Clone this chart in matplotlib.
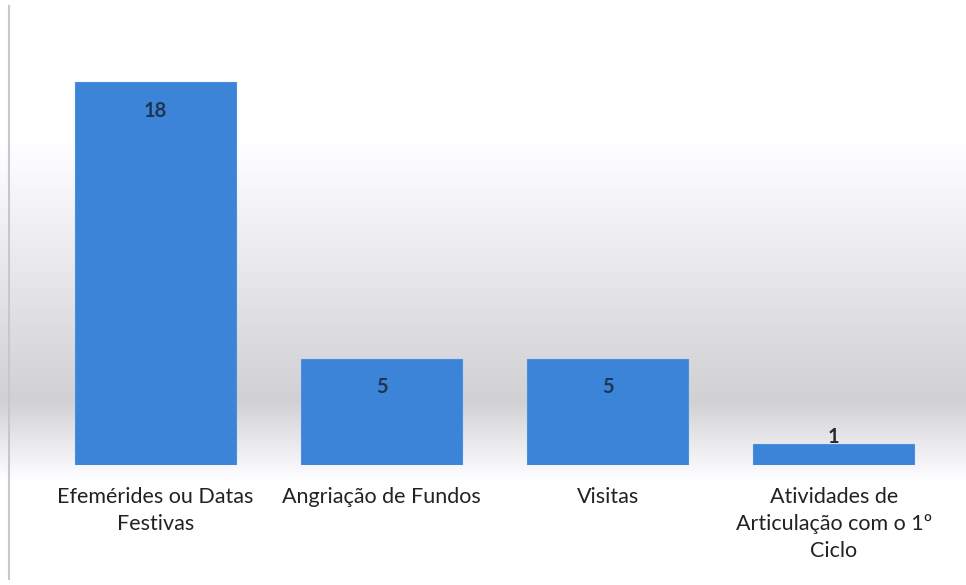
import matplotlib.pyplot as plt
import numpy as np

# Chart data
categories = ['Efemérides ou Datas\nFestivas', 'Angriação de Fundos', 'Visitas',
              'Atividades de\nArticulação com o 1º\nCiclo']
values = [18, 5, 5, 1]

plt.rcParams['font.family'] = ['Lato', 'DejaVu Sans']

fig = plt.figure(figsize=(9.66, 5.85), dpi=100)

# soft grey gradient behind the plot (scanned Excel look)
bg = fig.add_axes([0, 0, 1, 1], zorder=0)
ypix = np.arange(585)
shade = np.ones(585)
ramp_up = (ypix >= 140) & (ypix < 400)
shade[ramp_up] = 1 - 0.18 * (ypix[ramp_up] - 140) / 260
ramp_down = (ypix >= 400) & (ypix < 480)
shade[ramp_down] = 0.82 + 0.18 * (ypix[ramp_down] - 400) / 80
img = np.stack([shade, shade, np.clip(shade + 0.015, 0, 1)], axis=-1)
img = np.repeat(img[:, None, :], 10, axis=1)
bg.imshow(img, aspect='auto', extent=[0, 1, 0, 1], origin='upper')
bg.plot([0.009, 0.009], [0.01, 0.99], color='#c8c8c8', lw=1.5)
bg.set_xlim(0, 1)
bg.set_ylim(0, 1)
bg.axis('off')

ax = fig.add_axes([0.044, 0.205, 0.936, 0.728], zorder=1)
ax.patch.set_alpha(0)
x = np.arange(len(categories))
bars = ax.bar(x, values, width=0.71, color='#3b84d8', edgecolor='#4a8fdc', lw=0.8)

for xi, v in zip(x, values):
    if v >= 3:
        ax.text(xi, v - 1.35, str(v), ha='center', va='center', fontsize=14.5,
                fontweight='bold', color='#1f3552')
    else:
        ax.text(xi, v + 0.3, str(v), ha='center', va='center', fontsize=14.5,
                fontweight='bold', color='#2a2a2a')

ax.set_xlim(-0.5, len(categories) - 0.5)
ax.set_ylim(0, 20)
ax.set_xticks(x)
ax.set_xticklabels(categories, fontsize=15.5, color='#222222', linespacing=1.42)
ax.tick_params(axis='x', length=0, pad=16)
ax.set_yticks([])
for s in ax.spines.values():
    s.set_visible(False)

plt.savefig('out.png', dpi=100)
